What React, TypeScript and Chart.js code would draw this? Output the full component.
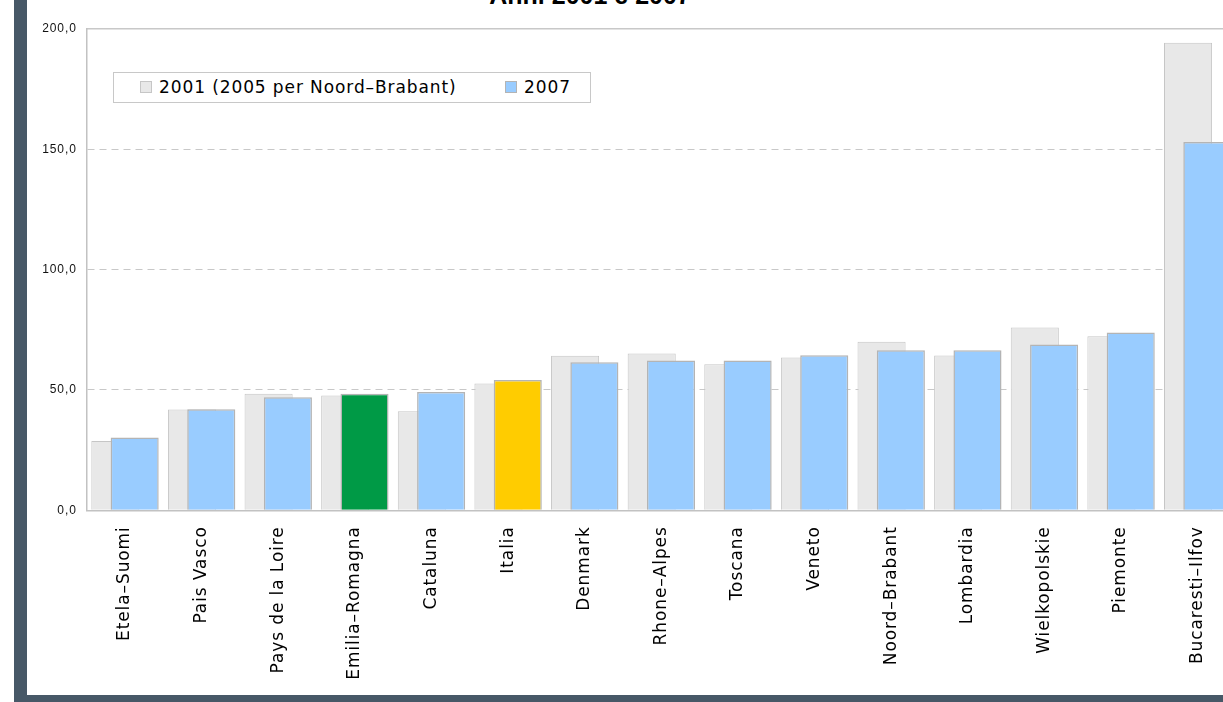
import React, { useEffect, useRef } from "react";
import { Chart, registerables } from "chart.js";

Chart.register(...registerables);

const categories = [
  "Etela–Suomi",
  "Pais Vasco",
  "Pays de la Loire",
  "Emilia–Romagna",
  "Cataluna",
  "Italia",
  "Denmark",
  "Rhone–Alpes",
  "Toscana",
  "Veneto",
  "Noord–Brabant",
  "Lombardia",
  "Wielkopolskie",
  "Piemonte",
  "Bucaresti–Ilfov",
];

const values2001 = [28.8, 41.9, 48.4, 47.7, 41.2, 52.7, 64.2, 65.2, 60.7, 63.5, 70.0, 64.3, 76.0, 72.3, 194.3];
const values2007 = [30.2, 42.0, 47.0, 48.4, 49.2, 54.1, 61.5, 62.2, 62.2, 64.4, 66.5, 66.5, 68.9, 73.9, 153.0];

const yTicks = [0, 50, 100, 150, 200];

const seriesLabels = ["2001 (2005 per Noord–Brabant)", "2007"];
const titleText = "Anni 2001 e 2007";

const highlight: Record<string, string> = {
  "Emilia–Romagna": "#009a46",
  Italia: "#ffcc00",
};

const GRAY_FILL = "#e8e8e8";
const GRAY_BORDER = "#c6c6c6";
const BLUE_FILL = "#99ccff";
const BLUE_BORDER = "#b4b4b4";
const FRAME = "#475867";

const frontOrder = {
  id: "frontOrder",
  beforeDatasetsDraw(chart: any) {
    const metas = chart.getSortedVisibleDatasetMetas();
    for (const m of metas) m.controller.draw();
    return false;
  },
};

const spacing = {
  id: "spacing",
  beforeUpdate(chart: any) {
    (chart.ctx as any).letterSpacing = "0.9px";
  },
  beforeDraw(chart: any) {
    (chart.ctx as any).letterSpacing = "0.9px";
  },
};

export default function App() {
  const ref = useRef<HTMLCanvasElement | null>(null);

  useEffect(() => {
    if (!ref.current) return;
    const chart = new Chart(ref.current, {
      type: "bar",
      data: {
        labels: categories,
        datasets: [
          {
            label: seriesLabels[0],
            data: values2001,
            backgroundColor: GRAY_FILL,
            borderColor: GRAY_BORDER,
            borderWidth: 1,
            categoryPercentage: 0.504,
            barPercentage: 2.49,
          },
          {
            label: seriesLabels[1],
            data: values2007,
            backgroundColor: categories.map((c) => highlight[c] || BLUE_FILL),
            borderColor: BLUE_BORDER,
            borderWidth: 1.5,
            categoryPercentage: 0.504,
            barPercentage: 2.49,
          },
        ],
      },
      options: {
        animation: false,
        responsive: false,
        maintainAspectRatio: false,
        layout: { padding: { top: 29, left: 0, right: 31, bottom: 0 } },
        plugins: {
          legend: { display: false },
          title: { display: false },
          tooltip: { enabled: false },
        },
        scales: {
          x: {
            type: "category",
            position: "bottom",
            grid: { display: false, drawTicks: false },
            border: { display: true, color: "#c2c2c2", width: 1.5 },
            ticks: {
              autoSkip: false,
              minRotation: 90,
              maxRotation: 90,
              padding: 16,
              color: "#000",
              font: { family: "DejaVu Sans", size: 17 },
            },
            afterFit(axis: any) {
              axis.height = 695 - 510.3;
            },
          },
          xTop: {
            type: "category",
            position: "top",
            grid: { display: false, drawTicks: false },
            border: { display: true, color: "#c8c8c8", width: 1.5 },
            ticks: { display: false },
            afterFit(axis: any) {
              axis.height = 0;
            },
          },
          y: {
            min: 0,
            max: 200,
            afterBuildTicks(axis: any) {
              axis.ticks = yTicks.map((v) => ({ value: v }));
            },
            grid: {
              drawTicks: false,
              lineWidth: 1,
              color: (ctx: any) =>
                ctx.tick && (ctx.tick.value === 0 || ctx.tick.value === 200) ? "rgba(0,0,0,0)" : "#c8c8c8",
            },
            border: { display: true, color: "#c2c2c2", width: 1.5, dash: [7, 5] },
            ticks: {
              padding: 10,
              color: "#111",
              font: { family: "Liberation Sans", size: 12 },
              callback: (v: any) => Number(v).toFixed(1).replace(".", ","),
            },
            afterFit(axis: any) {
              axis.width = 59.7;
            },
          },
        },
      } as any,
      plugins: [frontOrder, spacing],
    });
    return () => chart.destroy();
  }, []);

  return (
    <div
      style={{
        position: "fixed",
        left: 0,
        top: 0,
        width: 1223,
        height: 702,
        overflow: "hidden",
        background: "#fff",
      }}
    >
      <div
        style={{
          position: "absolute",
          left: 0,
          top: -17,
          width: 1180,
          textAlign: "center",
          fontFamily: "Liberation Sans, Arial, sans-serif",
          fontWeight: "bold",
          fontSize: 25,
          lineHeight: "25px",
          color: "#000",
          whiteSpace: "nowrap",
        }}
      >
        {titleText}
      </div>
      <div style={{ position: "absolute", left: 14, top: 0, width: 13, height: 702, background: FRAME }} />
      <div style={{ position: "absolute", left: 14, top: 695, width: 1223, height: 10, background: FRAME }} />
      <canvas
        ref={ref}
        width={1240}
        height={695}
        style={{ position: "absolute", left: 27, top: 0, width: 1240, height: 695 }}
      />
      <div
        style={{
          position: "absolute",
          left: 113,
          top: 72,
          width: 476,
          height: 29,
          border: "1px solid #c8c8c8",
          background: "#fff",
          fontFamily: "DejaVu Sans, sans-serif",
          fontSize: 17,
          letterSpacing: "0.9px",
          color: "#000",
        }}
      >
        <span
          style={{
            position: "absolute",
            left: 26,
            top: 8,
            width: 10,
            height: 10,
            background: GRAY_FILL,
            border: "1px solid " + GRAY_BORDER,
          }}
        />
        <span style={{ position: "absolute", left: 45, top: 3, lineHeight: "22px", whiteSpace: "nowrap" }}>
          {seriesLabels[0]}
        </span>
        <span
          style={{
            position: "absolute",
            left: 391,
            top: 8,
            width: 10,
            height: 10,
            background: BLUE_FILL,
            border: "1px solid " + BLUE_BORDER,
          }}
        />
        <span style={{ position: "absolute", left: 410, top: 3, lineHeight: "22px", whiteSpace: "nowrap" }}>
          {seriesLabels[1]}
        </span>
      </div>
    </div>
  );
}
